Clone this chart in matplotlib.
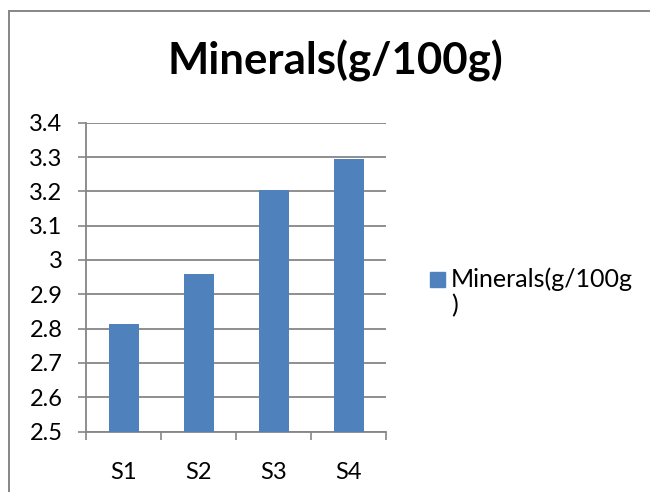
import matplotlib
matplotlib.use("Agg")
import matplotlib.pyplot as plt
from matplotlib.patches import Rectangle
from matplotlib.lines import Line2D
from matplotlib.ticker import FuncFormatter, FixedLocator

categories = ["S1", "S2", "S3", "S4"]
minerals = [2.812, 2.958, 3.205, 3.294]
series_name = "Minerals(g/100g)"
y_ticks = [2.5, 2.6, 2.7, 2.8, 2.9, 3.0, 3.1, 3.2, 3.3, 3.4]

plt.rcParams["font.family"] = ["Lato", "DejaVu Sans"]

W, H = 650, 492
fig = plt.figure(figsize=(W / 100, H / 100), dpi=100)
fig.patch.set_facecolor("white")

grey = "#868686"
bar_color = "#4F81BD"

# chart frame: top and left edges (the rest runs off the canvas)
fig.add_artist(Line2D([9 / W, 1.0], [1 - 11 / H, 1 - 11 / H],
                      transform=fig.transFigure, color=grey, linewidth=1.4))
fig.add_artist(Line2D([9 / W, 9 / W], [0.0, 1 - 11 / H],
                      transform=fig.transFigure, color=grey, linewidth=1.4))

ax = fig.add_axes([86 / W, (H - 431.5) / H, 300 / W, (431.5 - 122.7) / H])
x = list(range(len(categories)))
ax.bar(x, minerals, width=0.4, color=bar_color, zorder=3, label=series_name)
ax.set_xlim(-0.5, len(categories) - 0.5)
ax.set_ylim(y_ticks[0], y_ticks[-1])
ax.set_yticks(y_ticks)
ax.yaxis.set_major_formatter(FuncFormatter(lambda v, p: f"{v:g}"))
ax.set_xticks(x)
ax.set_xticklabels(categories)
ax.xaxis.set_minor_locator(FixedLocator([i - 0.5 for i in range(len(categories) + 1)]))
ax.tick_params(axis="x", which="major", length=0, pad=22, labelsize=17)
ax.tick_params(axis="x", which="minor", length=6, width=1.2, color=grey, direction="out")
ax.tick_params(axis="y", length=6, width=1.2, color=grey, pad=11, labelsize=17)
ax.grid(axis="y", color=grey, linewidth=1.3, zorder=0)
for s in ["top", "right"]:
    ax.spines[s].set_visible(False)
for s in ["left", "bottom"]:
    ax.spines[s].set_color(grey)
    ax.spines[s].set_linewidth(1.3)
ax.set_facecolor("none")

fig.text(335 / W, 1 - 75 / H, series_name, ha="center", va="baseline",
         fontsize=31.5, fontweight="bold")

# legend: swatch and wrapped series name
fig.add_artist(Rectangle((430 / W, 1 - 287 / H), 15 / W, 15 / H,
                         transform=fig.transFigure, color=bar_color))
fig.text(451 / W, 1 - 287 / H, "Minerals(g/100g", ha="left", va="baseline",
         fontsize=18)
fig.text(451 / W, 1 - 313 / H, ")", ha="left", va="baseline", fontsize=18)

fig.savefig("out.png", dpi=100)
